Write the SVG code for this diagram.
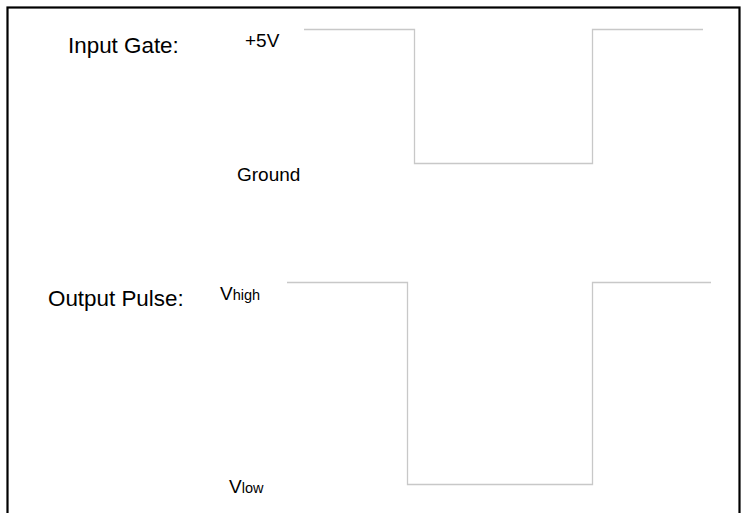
<svg xmlns="http://www.w3.org/2000/svg" width="748" height="513" viewBox="0 0 748 513">
<style>
.t{font-family:"Liberation Sans",Arial,sans-serif;fill:#000}
.w{fill:none;stroke:#c8c8c8;stroke-width:1.3}
</style>
<rect x="0" y="0" width="748" height="513" fill="#fff"/>
<rect x="7.5" y="7.5" width="732" height="520" fill="none" stroke="#000" stroke-width="2.2"/>
<g id="connectors">
<path class="w" d="M304 29.5H414.5V163.5H592.5V29.5H703"/>
<path class="w" d="M287 282.5H407.5V484.5H592.5V282.5H711"/>
</g>
<g id="input-label"><text class="t" x="68" y="53" font-size="22.4">Input Gate:</text></g>
<g id="plus5v"><text class="t" x="245" y="47" font-size="19">+5V</text></g>
<g id="ground"><text class="t" x="237" y="181" font-size="19">Ground</text></g>
<g id="output-label"><text class="t" x="48" y="306" font-size="22.4">Output Pulse:</text></g>
<g id="vhigh"><text class="t" x="220" y="300" font-size="19">V<tspan font-size="14.5">high</tspan></text></g>
<g id="vlow"><text class="t" x="229" y="493" font-size="19">V<tspan font-size="14.5">low</tspan></text></g>
</svg>
